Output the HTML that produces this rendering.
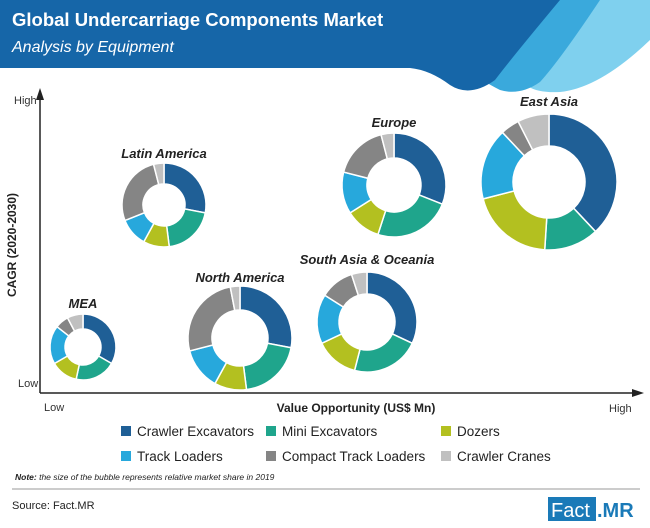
<!DOCTYPE html>
<html><head><meta charset="utf-8"><style>
body{margin:0;width:650px;height:528px;overflow:hidden;background:#fff;font-family:"Liberation Sans",sans-serif}
svg{display:block}
</style></head><body>
<svg width="650" height="528" viewBox="0 0 650 528">
<g>
<path d="M470 0 L650 0 L650 40 Q600 88 560 92 Q520 94 520 70 Z" fill="#7fd0ee"/>
<path d="M430 0 L600 0 Q560 60 540 82 Q520 96 500 90 Q480 80 470 70 Z" fill="#3aa9dc"/>
<path d="M0 0 L560 0 Q510 60 495 80 Q470 98 450 85 Q430 70 410 68 L0 68 Z" fill="#1666a8"/>
<text x="12" y="26" font-size="18.5" font-weight="bold" fill="#fff">Global Undercarriage Components Market</text>
<text x="12" y="52" font-size="16" font-style="italic" fill="#fff">Analysis by Equipment</text>
</g>
<g>
<line x1="40" y1="96" x2="40" y2="393" stroke="#222" stroke-width="1.5"/>
<path d="M40 88 L36 100 L44 100 Z" fill="#222"/>
<line x1="40" y1="393" x2="636" y2="393" stroke="#222" stroke-width="1.5"/>
<path d="M644 393 L632 389 L632 397 Z" fill="#222"/>
<text x="14" y="104" font-size="11" fill="#333">High</text>
<text x="18" y="387" font-size="11" fill="#333">Low</text>
<text transform="translate(16,245) rotate(-90)" text-anchor="middle" font-size="12" font-weight="bold" fill="#222">CAGR (2020-2030)</text>
<text x="44" y="411" font-size="11" fill="#333">Low</text>
<text x="356" y="412" text-anchor="middle" font-size="12" font-weight="bold" fill="#222">Value Opportunity (US$ Mn)</text>
<text x="609" y="412" font-size="11" fill="#333">High</text>
</g>
<g id="donuts"></g>
<g font-size="13.5" fill="#222">
<rect x="121" y="426" width="10" height="10" fill="#1f5f96"/><text x="137" y="436">Crawler Excavators</text>
<rect x="266" y="426" width="10" height="10" fill="#1fa58c"/><text x="282" y="436">Mini Excavators</text>
<rect x="441" y="426" width="10" height="10" fill="#b3c020"/><text x="457" y="436">Dozers</text>
<rect x="121" y="451" width="10" height="10" fill="#27a8dc"/><text x="137" y="461">Track Loaders</text>
<rect x="266" y="451" width="10" height="10" fill="#858585"/><text x="282" y="461">Compact Track Loaders</text>
<rect x="441" y="451" width="10" height="10" fill="#c0c0c0"/><text x="457" y="461">Crawler Cranes</text>
</g>
<text x="15" y="480" font-size="8.5" font-style="italic" fill="#222"><tspan font-weight="bold">Note:</tspan> the size of the bubble represents relative market share in 2019</text>
<line x1="12" y1="489" x2="640" y2="489" stroke="#999" stroke-width="1"/>
<text x="12" y="509" font-size="11" fill="#222">Source: Fact.MR</text>
<rect x="548" y="497" width="48" height="24" fill="#1a7ab8"/>
<text x="551" y="517" font-size="20" fill="#fff">Fact</text>
<text x="597" y="517" font-size="20" font-weight="bold" fill="#1a7ab8">.MR</text>
</svg>
<script>
const regions=["East Asia","Europe","Latin America","South Asia & Oceania","North America","MEA"];
const categories=["Crawler Excavators","Mini Excavators","Dozers","Track Loaders","Compact Track Loaders","Crawler Cranes"];
const eastAsia=[38,13,20,17,4.5,7.5];
const europe=[31,24,11,13,17,4];
const latinAmerica=[28,20,10,11,27,4];
const southAsia=[32,22,14,16,11,5];
const northAmerica=[28,20,10,13,26,3];
const mea=[30,18,12,17,6,7];
const colors=["#1f5f96","#1fa58c","#b3c020","#27a8dc","#858585","#c0c0c0"];
const layout=[[549,182,68,36,106],[394,185,52,27,127],[164,205,42,21,158],[367,322,50,28,264],[240,338,52,28,282],[83,347,33,18,308]];
const series=[eastAsia,europe,latinAmerica,southAsia,northAmerica,mea];
const NS="http://www.w3.org/2000/svg";
const g=document.getElementById('donuts');
function pt(cx,cy,r,a){return [cx+r*Math.sin(a),cy-r*Math.cos(a)];}
series.forEach((vals,i)=>{
 const [cx,cy,R,r,ly]=layout[i];
 const tot=vals.reduce((a,b)=>a+b,0);
 let a0=0;
 vals.forEach((v,j)=>{
  const a1=a0+v/tot*2*Math.PI;
  const large=(a1-a0)>Math.PI?1:0;
  const p1=pt(cx,cy,R,a0),p2=pt(cx,cy,R,a1),p3=pt(cx,cy,r,a1),p4=pt(cx,cy,r,a0);
  const p=document.createElementNS(NS,'path');
  p.setAttribute('d',`M${p1} A${R} ${R} 0 ${large} 1 ${p2} L${p3} A${r} ${r} 0 ${large} 0 ${p4} Z`);
  p.setAttribute('fill',colors[j]);p.setAttribute('stroke','#fff');p.setAttribute('stroke-width','1.5');
  
  
  g.appendChild(p);a0=a1;
 });
 const t=document.createElementNS(NS,'text');
 t.setAttribute('x',cx);t.setAttribute('y',ly);t.setAttribute('text-anchor','middle');
 t.setAttribute('font-size','13');t.setAttribute('font-weight','bold');t.setAttribute('font-style','italic');t.setAttribute('fill','#222');
 t.textContent=regions[i];
 
 
 g.appendChild(t);
});
</script>
</body></html>
